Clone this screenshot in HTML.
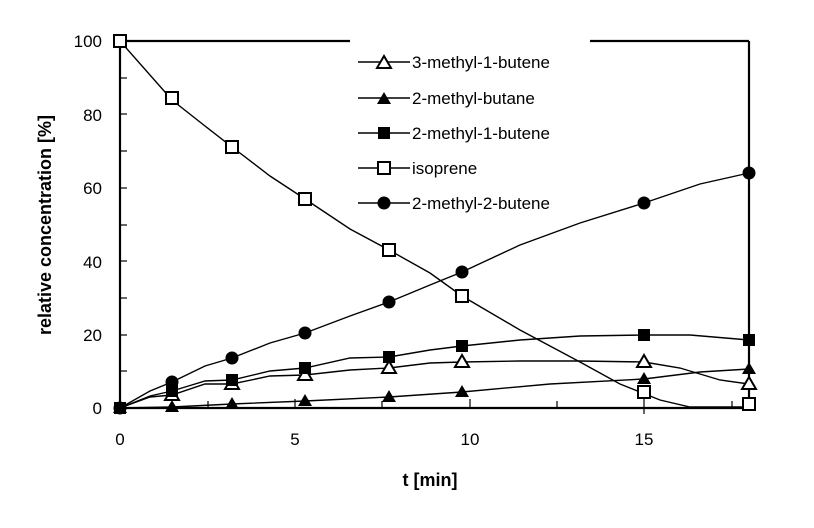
<!DOCTYPE html>
<html><head><style>body{margin:0;background:#fff}svg{display:block;font-family:"Liberation Sans",Arial,sans-serif}</style></head><body>
<svg width="814" height="528" viewBox="0 0 814 528" xmlns="http://www.w3.org/2000/svg">
<g stroke="#000" fill="none">
<line x1="120" y1="41" x2="749" y2="41" stroke-width="2.2"/>
<line x1="749" y1="41" x2="749" y2="408" stroke-width="2.2"/>
<line x1="120" y1="41" x2="120" y2="408" stroke-width="2.2"/>
<line x1="120" y1="408" x2="749" y2="408" stroke-width="2.2"/>
<g stroke-width="1.2">
<line x1="120" y1="371" x2="127" y2="371"/><line x1="120" y1="335" x2="127" y2="335"/><line x1="120" y1="298" x2="127" y2="298"/><line x1="120" y1="261" x2="127" y2="261"/><line x1="120" y1="225" x2="127" y2="225"/><line x1="120" y1="188" x2="127" y2="188"/><line x1="120" y1="151" x2="127" y2="151"/><line x1="120" y1="114" x2="127" y2="114"/><line x1="120" y1="78" x2="127" y2="78"/>
<line x1="208" y1="408" x2="208" y2="401"/><line x1="295" y1="408" x2="295" y2="399"/><line x1="382" y1="408" x2="382" y2="401"/><line x1="470" y1="408" x2="470" y2="399"/><line x1="557" y1="408" x2="557" y2="401"/><line x1="644" y1="414" x2="644" y2="399"/><line x1="732" y1="408" x2="732" y2="401"/>
</g>
</g>
<rect x="350" y="30" width="240" height="190" fill="#fff"/>
<g font-size="17" fill="#000" text-anchor="end">
<text x="102" y="47">100</text><text x="102" y="121">80</text><text x="102" y="194">60</text><text x="102" y="268">40</text><text x="102" y="341">20</text><text x="102" y="414">0</text>
</g>
<g font-size="17" fill="#000" text-anchor="middle">
<text x="120" y="445">0</text><text x="295" y="445">5</text><text x="470" y="445">10</text><text x="644" y="445">15</text>
</g>
<text x="430" y="486" font-size="18" font-weight="bold" text-anchor="middle">t [min]</text>
<text transform="translate(51,225) rotate(-90)" font-size="18" font-weight="bold" text-anchor="middle">relative concentration [%]</text>
<g stroke="#000" stroke-width="1.4" fill="none">
<polyline points="120,41 172,100 205,126 232,147 270,176 305,199 350,229 389,250 430,273 462,296 520,330 580,362 620,384 660,400 690,407 749,407"/>
<polyline points="120,408 150,391 172,382 205,366 232,358 270,343 305,333 350,316 389,302 430,285 462,272 520,245 580,223 644,203 700,184 749,173"/>
<polyline points="120,408 150,396 172,391 205,381 232,380 270,371 305,368 350,358 389,357 430,350 462,346 520,340 580,336 644,335 690,335 749,340"/>
<polyline points="120,408 150,397 172,395 205,384 232,384 270,376 305,375 350,370 389,368 430,363 462,362 520,361 580,361 644,362 680,368 720,380 749,384"/>
<polyline points="120,408 172,407 232,404 305,401 389,397 462,392 550,384 644,379 700,372 749,369"/>
</g>
<!-- markers -->
<g fill="#fff" stroke="#000" stroke-width="2">
<rect x="114" y="35" width="12" height="12"/><rect x="166" y="92" width="12" height="12"/><rect x="226" y="141" width="12" height="12"/><rect x="299" y="193" width="12" height="12"/><rect x="383" y="244" width="12" height="12"/><rect x="456" y="290" width="12" height="12"/><rect x="638" y="386" width="12" height="12"/><rect x="743" y="398" width="12" height="12"/>
</g>
<g fill="#000">
<circle cx="120" cy="408" r="6.5"/><circle cx="172" cy="382" r="6.5"/><circle cx="232" cy="358" r="6.5"/><circle cx="305" cy="333" r="6.5"/><circle cx="389" cy="302" r="6.5"/><circle cx="462" cy="272" r="6.5"/><circle cx="644" cy="203" r="6.5"/><circle cx="749" cy="173" r="6.5"/>
</g>
<g fill="#fff" stroke="#000" stroke-width="2">
<polygon points="172,388 165,400 179,400"/><polygon points="232,377 225,389 239,389"/><polygon points="305,368 298,380 312,380"/><polygon points="389,361 382,373 396,373"/><polygon points="462,355 455,367 469,367"/><polygon points="644,355 637,367 651,367"/><polygon points="749,377 742,389 756,389"/>
</g>
<g fill="#000">
<rect x="114" y="402" width="12" height="12"/><rect x="166" y="385" width="12" height="12"/><rect x="226" y="374" width="12" height="12"/><rect x="299" y="362" width="12" height="12"/><rect x="383" y="351" width="12" height="12"/><rect x="456" y="340" width="12" height="12"/><rect x="638" y="329" width="12" height="12"/><rect x="743" y="334" width="12" height="12"/>
<polygon points="120,401 113,413 127,413"/><polygon points="172,400 165,412 179,412"/><polygon points="232,397 225,409 239,409"/><polygon points="305,394 298,406 312,406"/><polygon points="389,390 382,402 396,402"/><polygon points="462,385 455,397 469,397"/><polygon points="644,372 637,384 651,384"/><polygon points="749,362 742,374 756,374"/>
</g>
<!-- legend -->
<g stroke="#000" stroke-width="1.4">
<line x1="358" y1="62" x2="410" y2="62"/><line x1="358" y1="98" x2="410" y2="98"/><line x1="358" y1="133" x2="410" y2="133"/><line x1="358" y1="168" x2="410" y2="168"/><line x1="358" y1="203" x2="410" y2="203"/>
</g>
<polygon points="384,56 377,68 391,68" fill="#fff" stroke="#000" stroke-width="2"/>
<polygon points="384,92 377,104 391,104" fill="#000"/>
<rect x="378" y="127" width="12" height="12" fill="#000"/>
<rect x="378" y="162" width="12" height="12" fill="#fff" stroke="#000" stroke-width="2"/>
<circle cx="384" cy="203" r="6.5" fill="#000"/>
<g font-size="17" fill="#000">
<text x="412" y="68">3-methyl-1-butene</text><text x="412" y="104">2-methyl-butane</text><text x="412" y="139">2-methyl-1-butene</text><text x="412" y="174">isoprene</text><text x="412" y="209">2-methyl-2-butene</text>
</g>
</svg>
</body></html>
